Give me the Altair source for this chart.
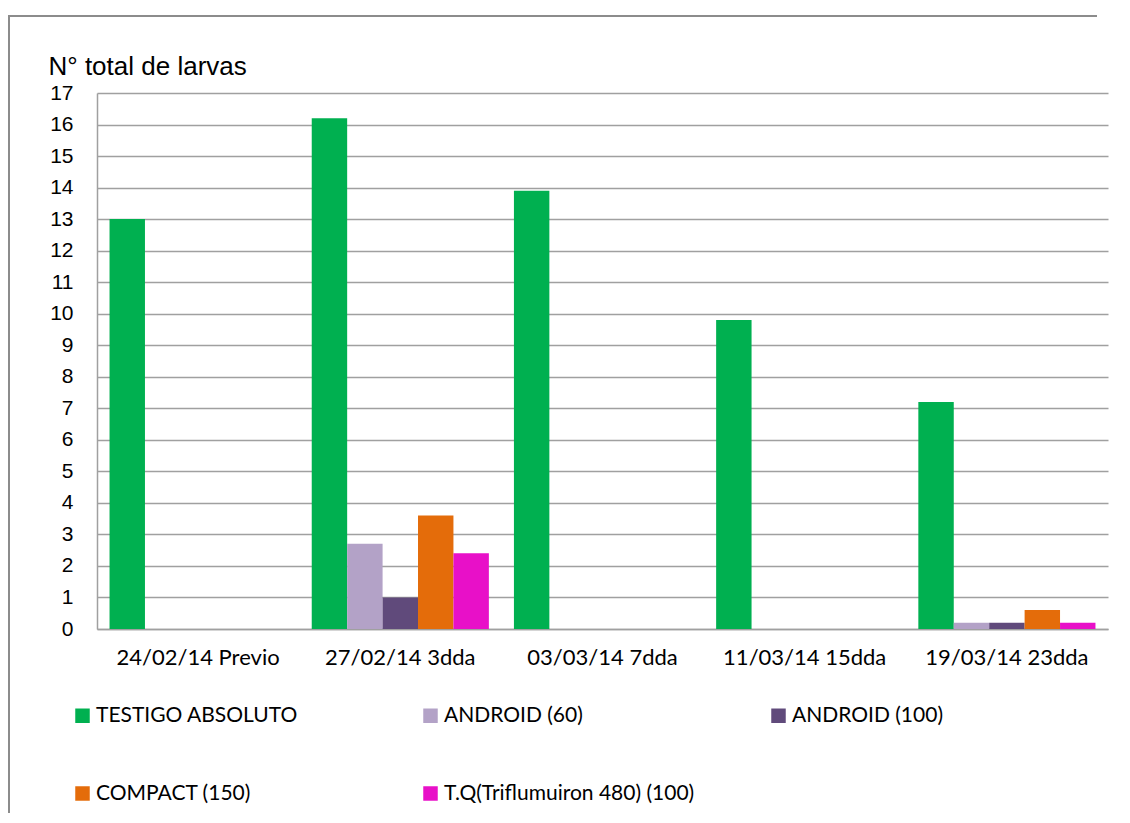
import altair as alt
import pandas as pd

categories = ["24/02/14 Previo", "27/02/14 3dda", "03/03/14 7dda", "11/03/14 15dda", "19/03/14 23dda"]
series = ["TESTIGO ABSOLUTO", "ANDROID (60)", "ANDROID (100)", "COMPACT (150)", "T.Q(Triflumuiron 480) (100)"]
colors = ["#00B050", "#B3A2C7", "#604A7B", "#E46C0A", "#E810C8"]

testigo = [13.0, 16.2, 13.9, 9.8, 7.2]
android60 = [0, 2.7, 0, 0, 0.2]
android100 = [0, 1.0, 0, 0, 0.2]
compact150 = [0, 3.6, 0, 0, 0.6]
tq100 = [0, 2.4, 0, 0, 0.2]

values = [testigo, android60, android100, compact150, tq100]
rows = []
for s, vals in zip(series, values):
    for c, v in zip(categories, vals):
        rows.append({"fecha": c, "tratamiento": s, "larvas": v})
df = pd.DataFrame(rows)

W, H = 1011, 536

bars = alt.Chart(df).mark_bar().encode(
    x=alt.X("fecha:N", sort=categories,
            scale=alt.Scale(paddingInner=0.124, paddingOuter=0.062),
            axis=alt.Axis(title=None, labelAngle=0, ticks=False, labelPadding=18,
                          labelFont="Lato", labelFontSize=22, labelColor="#000000",
                          domainColor="#A0A0A0", domainWidth=1.5)),
    xOffset=alt.XOffset("tratamiento:N", sort=series, scale=alt.Scale(paddingInner=0, paddingOuter=0)),
    y=alt.Y("larvas:Q", scale=alt.Scale(domain=[0, 17], nice=False),
            axis=alt.Axis(values=list(range(0, 18)), title="N° total de larvas",
                          titleAngle=0, titleAlign="left", titleBaseline="alphabetic",
                          titleX=-49, titleY=-19, titleFont="Liberation Sans",
                          titleFontSize=26, titleFontWeight="normal", titleColor="#000000",
                          labelFont="Liberation Sans", labelFontSize=21, labelColor="#000000",
                          labelPadding=24, ticks=False,
                          gridColor="#A0A0A0", gridWidth=1.5,
                          domainColor="#A0A0A0", domainWidth=1.5)),
    color=alt.Color("tratamiento:N", sort=series,
                    scale=alt.Scale(domain=series, range=colors),
                    legend=alt.Legend(title=None, orient="none", legendX=-25, legendY=612,
                                      direction="horizontal", padding=0,
                                      columns=3, gridAlign="all", columnPadding=73,
                                      rowPadding=56, symbolType="square", symbolSize=210,
                                      symbolStrokeWidth=0, labelOffset=3,
                                      labelFont="Lato", labelFontSize=21,
                                      labelColor="#000000", labelLimit=400)),
)

frame_df = pd.DataFrame({"k": [0]})
frame_top = alt.Chart(frame_df).mark_rule(stroke="#8C8C8C", strokeWidth=2).encode(
    x=alt.value(-89), x2=alt.value(1000), y=alt.value(-77), y2=alt.value(-77)
)
frame_left = alt.Chart(frame_df).mark_rule(stroke="#8C8C8C", strokeWidth=2).encode(
    x=alt.value(-88), x2=alt.value(-88), y=alt.value(-78), y2=alt.value(725)
)

chart = alt.layer(frame_top, frame_left, bars).properties(
    width=W, height=H,
    autosize=alt.AutoSizeParams(type="none"),
    padding={"left": 89, "top": 85, "right": 13, "bottom": 184},
    background="#FFFFFF",
).configure_view(strokeWidth=0)

chart.save("out.html", embed_options={"renderer": "svg", "actions": False})
